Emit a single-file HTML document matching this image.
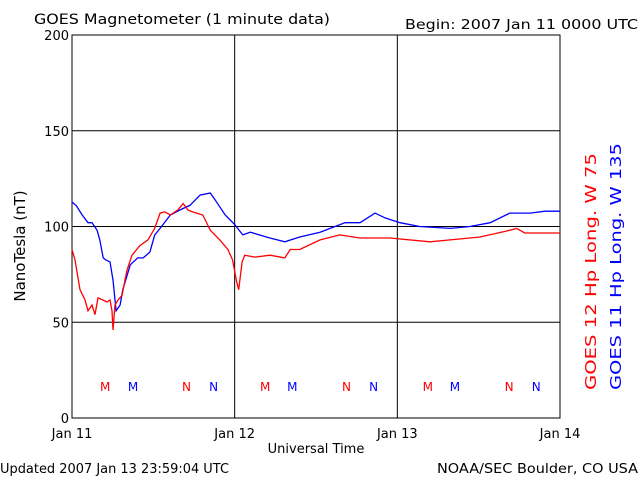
<!DOCTYPE html>
<html><head><meta charset="utf-8"><style>
body{margin:0;background:#fff;}
svg{display:block;font-family:"DejaVu Sans","Liberation Sans",sans-serif;}
</style></head><body>
<svg id="chart" width="640" height="480">
<text x="34" y="24" font-size="14" textLength="296" lengthAdjust="spacingAndGlyphs">GOES Magnetometer (1 minute data)</text>
<text x="405" y="29" font-size="13" textLength="233" lengthAdjust="spacingAndGlyphs">Begin:  2007 Jan 11 0000 UTC</text>
<text x="0" y="473" font-size="13" textLength="229" lengthAdjust="spacingAndGlyphs">Updated 2007 Jan 13 23:59:04 UTC</text>
<text x="437" y="473" font-size="13" textLength="201" lengthAdjust="spacingAndGlyphs">NOAA/SEC Boulder, CO USA</text>
<text x="316" y="453" font-size="13" text-anchor="middle">Universal Time</text>
<text transform="translate(25,246) rotate(-90)" font-size="15" text-anchor="middle">NanoTesla (nT)</text>
<text transform="translate(596,390) rotate(-90)" font-size="15" fill="#ff0000" textLength="237" lengthAdjust="spacingAndGlyphs">GOES 12 Hp  Long. W 75</text>
<text transform="translate(621,390) rotate(-90)" font-size="15" fill="#0000ff" textLength="247" lengthAdjust="spacingAndGlyphs">GOES 11 Hp  Long. W 135</text>
<g id="grid"></g><g id="series"></g><g id="marks"></g>
</svg>
<script>
const yTicks=[0,50,100,150,200];
const xTickLabels=["Jan 11","Jan 12","Jan 13","Jan 14"];
const redHours=[0,0.44,1.18,1.92,2.36,2.95,3.39,3.83,4.57,5.16,5.6,5.9,6.05,6.34,6.79,7.37,8.1,8.85,10,11.2,12.2,13,13.7,14.5,15.6,16.4,17.1,17.8,18.4,19.3,20.4,21.8,23,23.7,24.3,24.6,25.1,25.5,27,29.2,31.4,32.2,33.6,36.6,39.5,42.5,46.9,52.8,55.8,60.2,64.6,65.6,66.8,72];
const redValues=[88,82.5,67,61.6,56,59,54,62.7,61.6,60.6,61.6,56,46,59,61.6,64,77,85,90,93,99,107,107.6,106,108.6,112,108.6,107.6,107,106,98,93,88,82.5,71,67,81.5,85,84,85,83.6,88,88,93,95.6,94,94,92,93,94.5,98,99,96.6,96.6];
const blueHours=[0,0.6,1.5,2.36,2.95,3.7,4.1,4.6,5,5.6,6.05,6.5,7.1,7.5,8.6,9.7,10.5,11.5,12.2,13,14.5,15.9,17.4,18.9,20.4,21.1,22.6,24,25.2,26.3,29.2,31.4,33.6,36.6,40.3,42.5,44.7,46.2,48.4,51.3,55.8,58.7,61.7,64.6,67.6,69.8,72];
const blueValues=[112.8,111,106,102,102,98,93,83.6,82.5,81.5,72,56,59,67,80,83.6,83.6,86.7,95.6,99,106,108.6,111,116.4,117.5,114,106,101,95.6,97,94,92,94.5,97,102,102,107,104.5,102,100,99,100,102,107,107,108,108];
const markerLabels=["M","M","N","N","M","M","N","N","M","M","N","N"];
const markerHours=[4.9,9,16.9,20.9,28.5,32.5,40.5,44.5,52.5,56.5,64.5,68.5];
const markerSat=["r","b","r","b","r","b","r","b","r","b","r","b"];
const NS="http://www.w3.org/2000/svg";
const X0=72,X1=560,Y0=418,Y1=35;
const sx=h=>X0+h/72*(X1-X0);
const sy=v=>Y0-v/200*(Y0-Y1);
function mk(t,a,p){const e=document.createElementNS(NS,t);for(const k in a)e.setAttribute(k,a[k]);p.appendChild(e);return e;}
const grid=document.getElementById('grid');
const frame=mk('rect',{x:X0,y:Y1,width:X1-X0,height:Y0-Y1,fill:'none',stroke:'#000','stroke-width':1},grid);


yTicks.forEach(v=>{
 const l=mk('line',{x1:X0,x2:X1,y1:sy(v),y2:sy(v),stroke:'#000'},grid);
 
 
 const t=mk('text',{x:X0-3,y:sy(v)+5,'font-size':13,'text-anchor':'end'},grid);t.textContent=v;
 
 
});
xTickLabels.forEach((s,i)=>{
 const x=sx(i*24);
 const l=mk('line',{x1:x,x2:x,y1:Y1,y2:Y0,stroke:'#000'},grid);
 
 
 const t=mk('text',{x:x,y:438,'font-size':13,'text-anchor':'middle'},grid);t.textContent=s;
 
 
});
const ser=document.getElementById('series');
function line(h,v,c,name){
 const pts=h.map((x,i)=>sx(x).toFixed(1)+','+sy(v[i]).toFixed(1)).join(' ');
 const p=mk('polyline',{points:pts,fill:'none',stroke:c,'stroke-width':1.3},ser);
 
 
}
line(blueHours,blueValues,'#0000ff','goes11-line');
line(redHours,redValues,'#ff0000','goes12-line');
const mg=document.getElementById('marks');
markerLabels.forEach((s,i)=>{
 const t=mk('text',{x:sx(markerHours[i]),y:391,'font-size':12,'text-anchor':'middle',fill:markerSat[i]=='r'?'#ff0000':'#0000ff'},mg);
 t.textContent=s;
 
 
});
</script>
</body></html>
